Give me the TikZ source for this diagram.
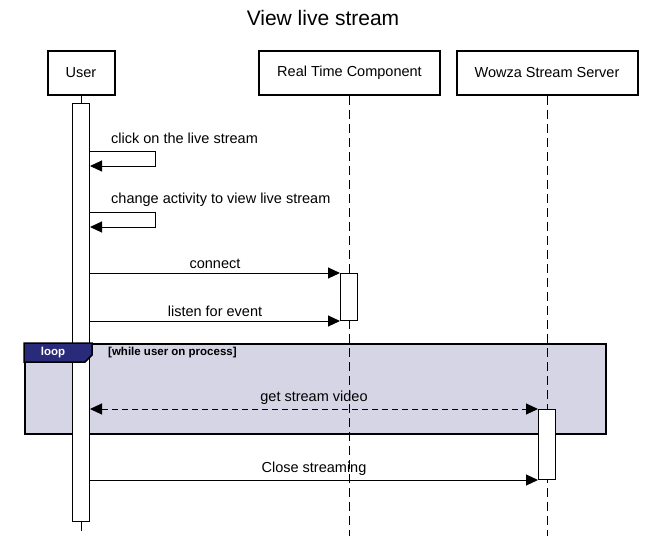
\documentclass[tikz,border=0pt]{standalone}
\usepackage{fontspec}
\setmainfont{Liberation Sans}
\usetikzlibrary{arrows.meta, positioning}
\tikzstyle{actor} = [draw, line width=2pt, fill=white, rectangle, minimum height=44pt, font=\fontsize{14.5}{16}\selectfont]
\tikzstyle{bar} = [draw, line width=1pt, fill=white, rectangle, inner sep=0pt, minimum width=17pt, anchor=north]
\tikzstyle{life} = [line width=1pt, dash pattern=on 9pt off 5pt]
\tikzstyle{msg} = [line width=1pt, -{Triangle[length=12pt,width=11pt]}]
\tikzstyle{lbl} = [font=\fontsize{14.5}{16}\selectfont, inner sep=2pt]
\definecolor{framefill}{RGB}{213,213,230}
\definecolor{tabfill}{RGB}{42,42,122}

\begin{document}
\begin{tikzpicture}[x=1pt, y=-1pt, >=latex]
    \useasboundingbox (0,0) rectangle (646,536);
    \node [font=\fontsize{21}{24}\selectfont] (title) at (323,18) {View live stream};

    % loop frame
    \node [draw, line width=2pt, fill=framefill, rectangle, minimum width=581pt, minimum height=90pt, inner sep=0pt, anchor=north west] (frame) at (24,343) {};

    % lifelines
    \node [actor, minimum width=67pt] (user) at (81,73) {User};
    \node [actor, minimum width=181pt] (rtc) at (349.5,73) {Real Time Component};
    \node [actor, minimum width=181pt] (wowza) at (547,73) {Wowza Stream Server};
    \coordinate (userend) at (81,536);
    \coordinate (rtcend) at (349.5,536);
    \coordinate (wowzaend) at (547,536);
    \draw [life] (rtc) -- (rtcend);
    \draw [life] (wowza) -- (wowzaend);

    \node [bar, minimum height=418pt] (ubar) at (81,103) {};
    \node [bar, minimum height=47pt] (rbar) at (349,273) {};
    \node [bar, minimum height=70pt] (wbar) at (547,409) {};
    \draw [line width=1pt] (user) -- (ubar);
    \draw [life] (ubar) -- (userend);

    % loop tab
    \draw [line width=1.5pt, fill=tabfill] (frame.north west) -- ++(68,0) -- ++(0,12) -- ++(-7,7) -- ++(-61,0) -- cycle;
    \node [text=white, font=\fontsize{11.5}{13}\bfseries] (looplbl) at (53,352.5) {loop};
    \node [anchor=west, font=\fontsize{11.5}{13}\bfseries, inner sep=0pt] (cond) at (108,352.5) {[while user on process]};

    % self messages
    \coordinate (s1a) at (90,151);
    \coordinate (s1b) at (155,151);
    \coordinate (s1c) at (155,166);
    \coordinate (s1d) at (90,166);
    \draw [msg] (s1a) -- (s1b) -- (s1c) -- (s1d);
    \node [lbl, anchor=west] (l1) at (109,138) {click on the live stream};
    \coordinate (s2a) at (90,212);
    \coordinate (s2b) at (155,212);
    \coordinate (s2c) at (155,227);
    \coordinate (s2d) at (90,227);
    \draw [msg] (s2a) -- (s2b) -- (s2c) -- (s2d);
    \node [lbl, anchor=west] (l2) at (109,200) {change activity to view live stream};

    % messages
    \draw [msg] (ubar.east |- rbar.north west) -- node [lbl, above=2pt] {connect} (rbar.north west);
    \draw [msg] (ubar.east |- rbar.south west) -- node [lbl, above=2pt] {listen for event} (rbar.south west);
    \draw [msg, {Triangle[length=12pt,width=11pt]}-{Triangle[length=12pt,width=11pt]}, dash pattern=on 6pt off 4pt] (ubar.east |- wbar.north west) -- node [lbl, above=2pt] {get stream video} (wbar.north west);
    \draw [msg] (ubar.east |- wbar.south west) -- node [lbl, above=2pt] {Close streaming} (wbar.south west);
\end{tikzpicture}
\end{document}
